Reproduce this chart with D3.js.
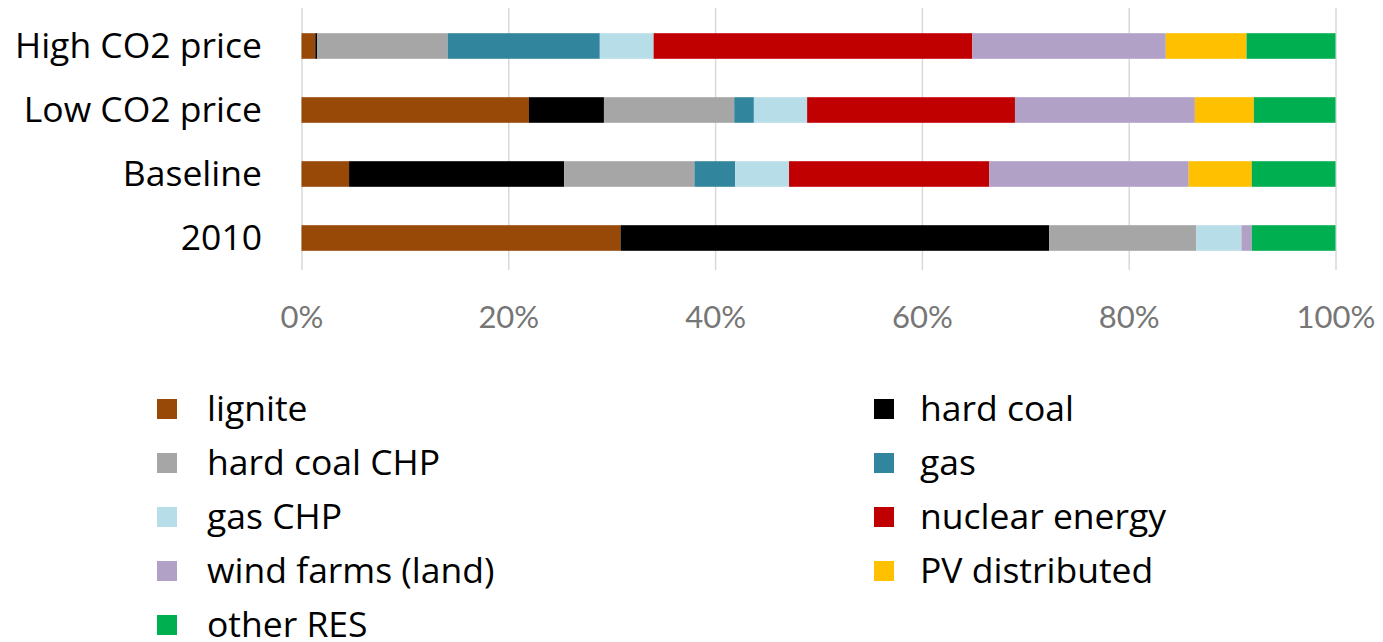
<!DOCTYPE html>
<html>
<head>
<meta charset="utf-8">
<script src="https://cdn.jsdelivr.net/npm/d3@7"></script>
<style>
  html, body { margin: 0; padding: 0; background: #fff; }
  svg { display: block; }
</style>
</head>
<body>
<svg id="chart" width="1383" height="642"></svg>
<script>
// ---- data ----
const categories = ["High CO2 price", "Low CO2 price", "Baseline", "2010"];
const seriesNames = ["lignite", "hard coal", "hard coal CHP", "gas", "gas CHP",
                     "nuclear energy", "wind farms (land)", "PV distributed", "other RES"];
const seriesColors = ["#984807", "#000000", "#A6A6A6", "#31859C", "#B7DEE8",
                      "#C00000", "#B2A1C7", "#FFC000", "#00B050"];
// shares (%) per category, in series order
const highCO2  = [1.33, 0.2, 12.6, 14.7, 5.2, 30.8, 18.7, 7.8, 8.6];
const lowCO2   = [22.0, 7.25, 12.6, 1.9, 5.15, 20.1, 17.4, 5.7, 7.9];
const baseline = [4.6, 20.8, 12.6, 3.95, 5.2, 19.35, 19.3, 6.1, 8.1];
const y2010    = [30.85, 41.45, 14.25, 0, 4.35, 0, 1.0, 0, 8.1];
const tickValues = [0, 0.2, 0.4, 0.6, 0.8, 1.0];
const tickLabels = ["0%", "20%", "40%", "60%", "80%", "100%"];

// ---- build table ----
const rows = [highCO2, lowCO2, baseline, y2010];
const table = categories.map((c, i) => {
  const o = { category: c };
  seriesNames.forEach((s, j) => { o[s] = rows[i][j]; });
  return o;
});

const svg = d3.select("#chart");
const x = d3.scaleLinear().domain([0, 1]).range([301.5, 1335.5]);
const y = d3.scaleBand().domain(categories).range([14, 270])
  .paddingInner(0.6).paddingOuter(0.3);
const color = d3.scaleOrdinal().domain(seriesNames).range(seriesColors);

// gridlines
const grid = svg.append("g").attr("transform", "translate(0,270)")
  .call(d3.axisBottom(x).tickValues(tickValues).tickSize(-262).tickFormat(""));
grid.select(".domain").remove();
grid.selectAll("line").attr("stroke", "#D9D9D9").attr("stroke-width", 1.5);

// tick labels
const axis = svg.append("g").attr("transform", "translate(0,270)")
  .call(d3.axisBottom(x).tickValues(tickValues).tickSize(0)
    .tickFormat((d, i) => tickLabels[i]));
axis.select(".domain").remove();
axis.selectAll("text")
  .attr("y", 58).attr("dy", 0)
  .attr("fill", "#767676")
  .style("font-family", "Lato")
  .style("font-size", "31px");

// bars
const stack = d3.stack().keys(seriesNames).offset(d3.stackOffsetExpand);
const stacked = stack(table);
svg.append("g").selectAll("g").data(stacked).join("g")
  .attr("fill", d => color(d.key))
  .selectAll("rect").data(d => d).join("rect")
  .attr("x", d => x(d[0]))
  .attr("y", d => y(d.data.category))
  .attr("width", d => Math.max(0, x(d[1]) - x(d[0])))
  .attr("height", y.bandwidth());

// category labels
svg.append("g").selectAll("text").data(categories).join("text")
  .attr("x", 262)
  .attr("y", d => y(d) + y.bandwidth() / 2)
  .attr("dy", "0.33em")
  .attr("text-anchor", "end")
  .attr("fill", "#000")
  .style("font-family", "Open Sans")
  .style("font-size", "35.5px")
  .text(d => d);

// legend (two columns, row-major)
const legendCols = [{ sx: 157, tx: 207 }, { sx: 874, tx: 920 }];
const legendRowY = d3.scaleLinear().domain([0, 1]).range([409, 463]);
const legend = svg.append("g").selectAll("g").data(seriesNames).join("g")
  .attr("transform", (d, i) => {
    const col = legendCols[i % 2];
    return `translate(${col.sx},${legendRowY(Math.floor(i / 2))})`;
  });
legend.append("rect")
  .attr("x", 0).attr("y", -10).attr("width", 20).attr("height", 20)
  .attr("fill", d => color(d));
legend.append("text")
  .attr("x", (d, i) => legendCols[i % 2].tx - legendCols[i % 2].sx)
  .attr("y", 0).attr("dy", "0.33em")
  .attr("fill", "#000")
  .style("font-family", "Open Sans")
  .style("font-size", "35.5px")
  .text(d => d);
</script>
</body>
</html>
